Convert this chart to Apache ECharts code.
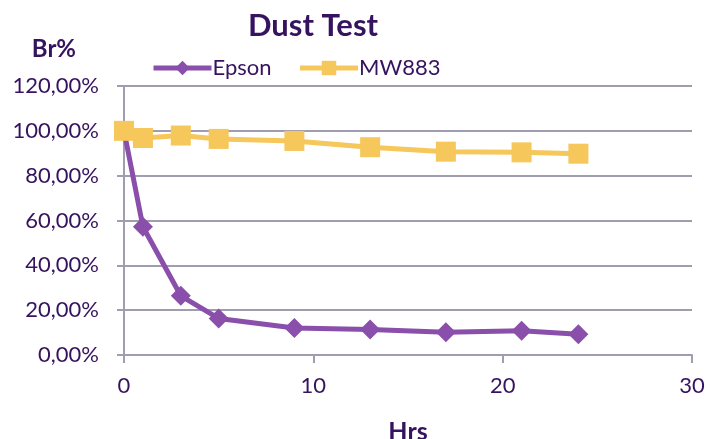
<!DOCTYPE html>
<html>
<head>
<meta charset="utf-8">
<script src="https://cdn.jsdelivr.net/npm/echarts@6/dist/echarts.min.js"></script>
<style>html,body{margin:0;padding:0;background:#fff}#c{width:710px;height:439px}</style>
</head>
<body>
<div id="c"></div>
<script>
const hours = [0, 1, 3, 5, 9, 13, 17, 21, 24];
const epson = [100, 57.2, 26.4, 16.3, 12.0, 11.4, 10.2, 10.8, 9.3];
const mw883 = [100, 96.8, 97.9, 96.4, 95.5, 92.7, 90.7, 90.4, 89.8];
const textColor = '#36135f';
const font = 'Lato';
const chart = echarts.init(document.getElementById('c'));
chart.setOption({
  backgroundColor: '#fff',
  animation: false,
  title: {
    text: 'Dust Test', left: 308, top: 5, textAlign: 'center',
    textStyle: { fontFamily: font, fontSize: 31, fontWeight: 'bold', color: textColor }
  },
  legend: {
    left: 146, top: 52, itemWidth: 58, itemHeight: 18, itemGap: 26,
    lineStyle: { width: 5 },
    textStyle: { fontFamily: font, fontSize: 22, color: textColor, padding: [0, 0, 0, -4] },
    data: ['Epson', 'MW883']
  },
  grid: { left: 124, right: 18, top: 86, bottom: 84, containLabel: false, outerBoundsMode: 'none' },
  xAxis: {
    type: 'value', min: 0, max: 30, interval: 10,
    name: 'Hrs', nameLocation: 'middle', nameGap: 64,
    nameTextStyle: { fontFamily: font, fontSize: 25, fontWeight: 'bold', color: textColor },
    axisLine: { show: true, lineStyle: { color: '#a19db0', width: 2 } },
    axisTick: { show: true, length: 8, lineStyle: { color: '#a19db0', width: 2 } },
    axisLabel: { fontFamily: font, fontSize: 22, color: textColor, margin: 20 },
    splitLine: { show: false }
  },
  yAxis: {
    type: 'value', min: 0, max: 120, interval: 20,
    name: 'Br%', nameLocation: 'end', nameGap: 37,
    nameTextStyle: { fontFamily: font, fontSize: 24, fontWeight: 'bold', color: textColor, align: 'right', verticalAlign: 'middle', padding: [0, 48, 0, 0] },
    axisLine: { show: true, lineStyle: { color: '#a19db0', width: 2 } },
    axisTick: { show: true, length: 7, lineStyle: { color: '#a19db0', width: 2 } },
    axisLabel: {
      fontFamily: font, fontSize: 22, color: textColor, margin: 25,
      formatter: v => v.toFixed(2).replace('.', ',') + '%'
    },
    splitLine: { show: true, lineStyle: { color: '#a19db0', width: 2 } }
  },
  series: [
    {
      name: 'Epson', type: 'line', data: hours.map((h, i) => [h, epson[i]]),
      symbol: 'diamond', symbolSize: 20, showAllSymbol: true,
      lineStyle: { color: '#8a4fab', width: 5 },
      itemStyle: { color: '#8a4fab' }
    },
    {
      name: 'MW883', type: 'line', data: hours.map((h, i) => [h, mw883[i]]),
      symbol: 'rect', symbolSize: 20, showAllSymbol: true,
      lineStyle: { color: '#f6c75a', width: 5 },
      itemStyle: { color: '#f6c75a' }
    }
  ]
});
</script>
</body>
</html>
